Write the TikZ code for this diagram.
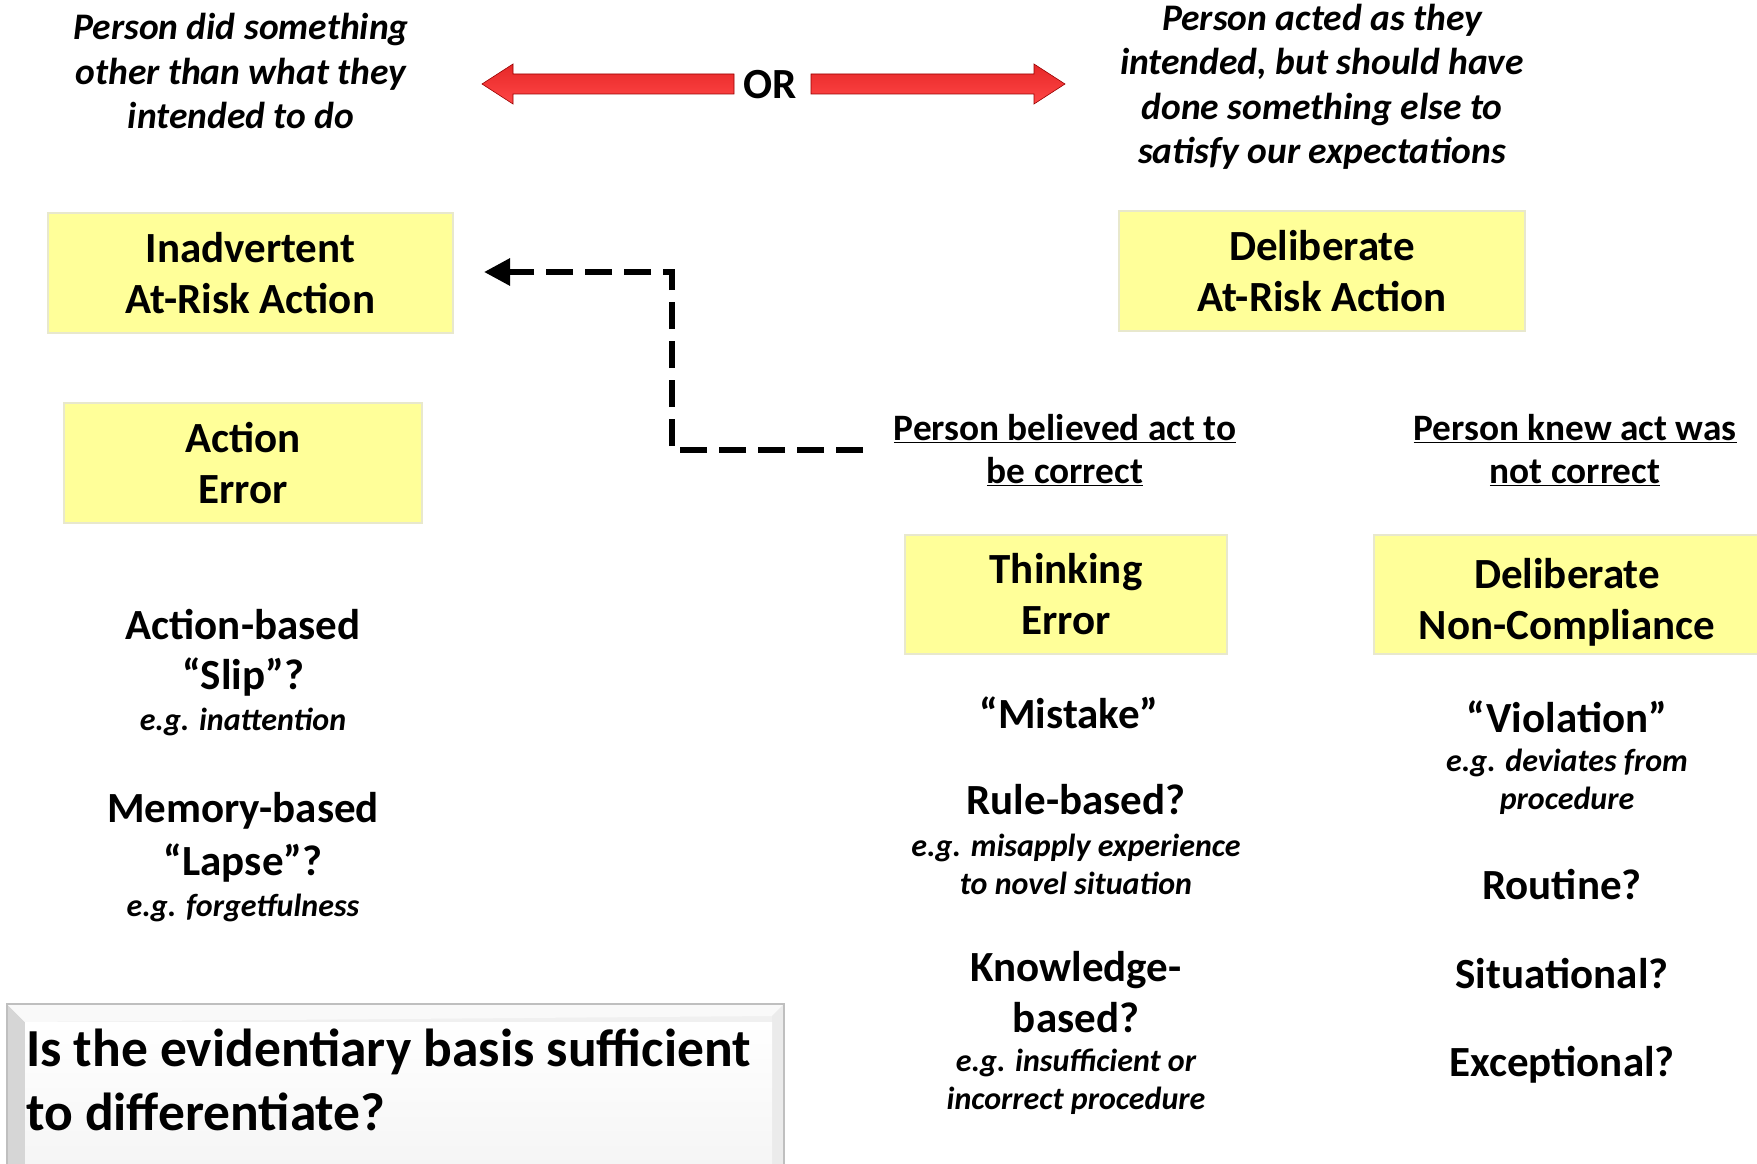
\documentclass[tikz,border=0pt]{standalone}
\usepackage{fontspec}
\setmainfont{Carlito}
\usetikzlibrary{arrows.meta}

\definecolor{boxyellow}{RGB}{255,255,153}
\definecolor{boxedge}{RGB}{232,232,205}
\definecolor{redlight}{RGB}{255,70,70}
\definecolor{reddark}{RGB}{190,0,0}
\definecolor{redmid}{RGB}{230,40,40}

\begin{document}
\begin{tikzpicture}[x=1pt,y=-1pt,
  yellowbox/.style={draw=boxedge, line width=2pt, fill=boxyellow, inner sep=0pt,
    align=center, font=\bfseries\fontsize{43}{51}\selectfont},
  bigtext/.style={align=center, inner sep=0pt, font=\bfseries\fontsize{43}{51}\selectfont},
  smalltext/.style={align=center, inner sep=0pt, font=\bfseries\itshape\fontsize{32}{38}\selectfont},
  toptext/.style={align=center, inner sep=0pt, font=\bfseries\itshape\fontsize{37.5}{44.5}\selectfont},
  ultext/.style={align=center, inner sep=0pt, font=\bfseries\fontsize{37.3}{43}\selectfont},
  redarrow/.style={draw=reddark!80!black, line width=0.6pt, top color=redmid, middle color=reddark, bottom color=redlight},
  dashconn/.style={line width=6pt, dash pattern=on 27pt off 12pt, -{Triangle[length=26pt,width=26pt]}}
]
\useasboundingbox (0,0) rectangle (1757,1164);

% headings above the two branches
\node[toptext] (inadv) at (241,71) {Person did something\\other than what they\\intended to do};
\node[toptext] (delib) at (1322,87) {Person acted as they\\intended, but should have\\done something else to\\satisfy our expectations};

% OR with the two block arrows
\node[bigtext] (or) at (770,85) {OR};
\path[redarrow] (482,84) -- (513,64) -- (513,74) -- (734,74) -- (734,94) -- (513,94) -- (513,104) -- cycle;
\path[redarrow] (1065,84) -- (1034,64) -- (1034,74) -- (811,74) -- (811,94) -- (1034,94) -- (1034,104) -- cycle;

% category boxes
\node[yellowbox, minimum width=405pt, minimum height=120pt] (iara) at (250.5,273) {Inadvertent\\At-Risk Action};
\node[yellowbox, minimum width=406pt, minimum height=120pt] (dara) at (1322,271) {Deliberate\\At-Risk Action};
\node[yellowbox, minimum width=358pt, minimum height=120pt] (ae) at (243,463) {Action\\Error};
\node[yellowbox, minimum width=322pt, minimum height=119pt] (te) at (1066,594.5) {Thinking\\Error};
\node[yellowbox, minimum width=388pt, minimum height=119pt] (dnc) at (1568,594.5) {};
\node[bigtext] (dnctext) at (1567,602) {Deliberate\\Non-Compliance};

% beliefs
\node[ultext] (believed) at (1065,450) {\underline{Person believed act to}\\\underline{be correct}};
\node[ultext] (knew) at (1575,450) {\underline{Person knew act was}\\\underline{not correct}};

% dashed connector back to the inadvertent box
\coordinate (dstart) at (863,450);
\coordinate (dbendA) at (672,450);
\coordinate (dbendB) at (672,272);
\coordinate (dend) at (484,272);
\draw[dashconn] (dstart) -- (dbendA) -- (dbendB) -- (dend);

% left column
\node[bigtext] (actb) at (243,625) {Action-based};
\node[bigtext] (slip) at (243,677) {“Slip”?};
\node[smalltext] (inatt) at (243,722) {e.g. inattention};
\node[bigtext] (memb) at (243,811) {Memory-based};
\node[bigtext] (lapse) at (243,863) {“Lapse”?};
\node[smalltext] (forget) at (243,908) {e.g. forgetfulness};

% middle column
\node[bigtext] (mistake) at (1069,713) {“Mistake”};
\node[bigtext] (rule) at (1076,800) {Rule-based?};
\node[smalltext] (misapply) at (1076,864.5) {e.g. misapply experience\\to novel situation};
\node[bigtext] (know) at (1076,992.5) {Knowledge-\\based?};
\node[smalltext] (insuff) at (1076,1082) {e.g. insufficient or\\incorrect procedure};

% right column
\node[bigtext] (viol) at (1567,717) {“Violation”};
\node[smalltext] (deviate) at (1567,782) {e.g. deviates from\\procedure};
\node[bigtext] (routine) at (1562,885) {Routine?};
\node[bigtext] (situ) at (1562,974) {Situational?};
\node[bigtext] (except) at (1562,1065) {Exceptional?};

% question panel with bevelled edge
\fill[gray!12] (7,1004) rectangle (784,1170);
\fill[gray!32] (7,1004) -- (25,1022) -- (25,1170) -- (7,1170) -- cycle;
\fill[gray!5] (7,1004) -- (784,1004) -- (772,1016) -- (25,1022) -- cycle;
\fill[gray!16] (784,1004) -- (784,1170) -- (772,1170) -- (772,1016) -- cycle;
\shade[top color=white, bottom color=gray!8] (25,1022) rectangle (772,1170);
\draw[gray!50, line width=1.5pt] (7,1170) -- (7,1004) -- (784,1004) -- (784,1170);
\node[anchor=west, align=left, inner sep=0pt, font=\bfseries\fontsize{53.5}{64}\selectfont] (question) at (26,1080) {Is the evidentiary basis sufficient\\to differentiate?};
\end{tikzpicture}
\end{document}
